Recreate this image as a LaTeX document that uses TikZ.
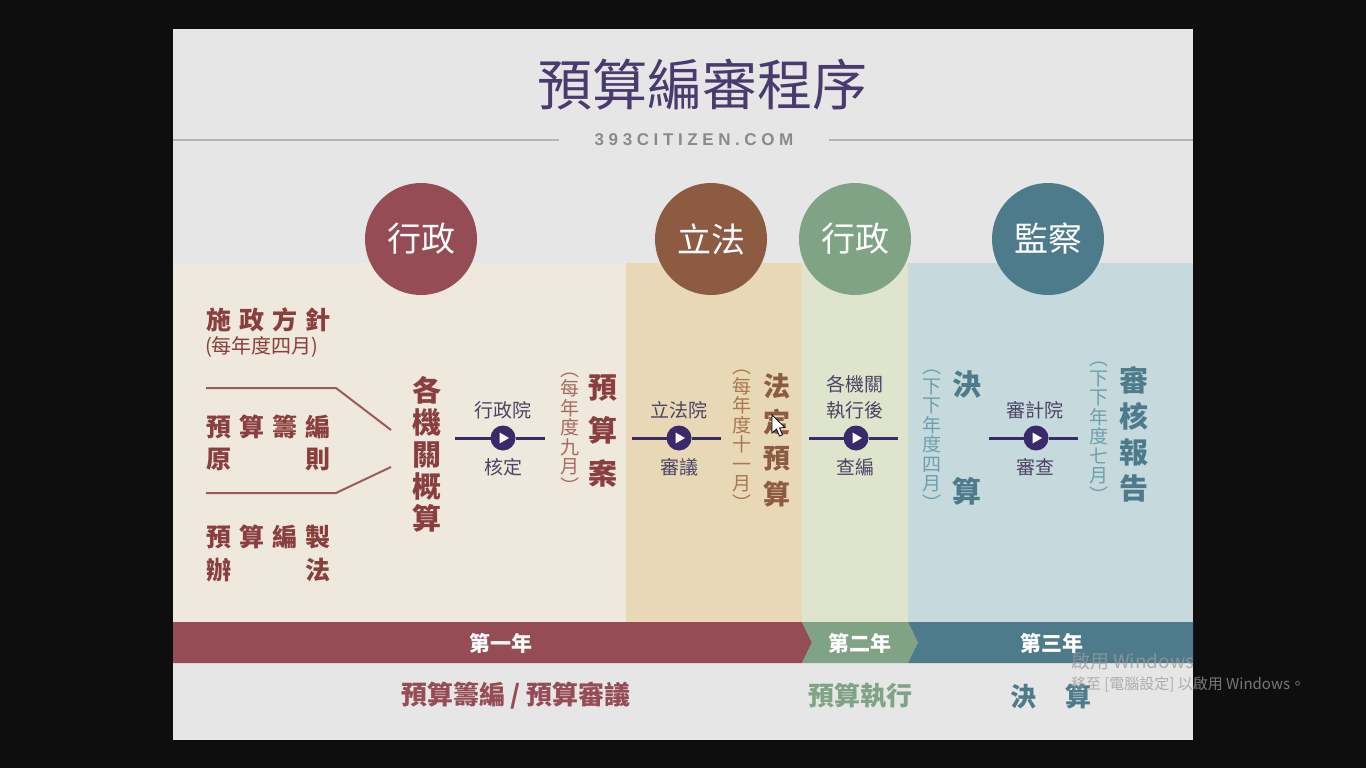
\documentclass[tikz,border=0pt]{standalone}
\usepackage{fontspec}
\setmainfont{Noto Sans CJK TC}
\newfontfamily\lat{Liberation Sans}
\usetikzlibrary{calc}
\definecolor{frame}{HTML}{0E0E0E}
\definecolor{bgc}{HTML}{E6E6E6}
\definecolor{pone}{HTML}{EFE8DC}
\definecolor{ptwo}{HTML}{E9D8B6}
\definecolor{pthree}{HTML}{DFE5CD}
\definecolor{pfour}{HTML}{C6D9DD}
\definecolor{cred}{HTML}{954C55}
\definecolor{cbrown}{HTML}{8C5B41}
\definecolor{cgreen}{HTML}{80A386}
\definecolor{cblue}{HTML}{4E7B8B}
\definecolor{titlec}{HTML}{4A3B6F}
\definecolor{urlc}{HTML}{8A8A8A}
\definecolor{rulec}{HTML}{B4B4B4}
\definecolor{redtxt}{HTML}{8A3E3E}
\definecolor{redlight}{HTML}{A86A60}
\definecolor{brownlight}{HTML}{A8784F}
\definecolor{bluelight}{HTML}{6D9FAE}
\definecolor{arrowc}{HTML}{3A2A6A}
\definecolor{labc}{HTML}{4C4465}
\definecolor{wmark}{HTML}{9A9A9A}
\newcommand{\gp}{\hspace{8pt}}
\begin{document}
\begin{tikzpicture}[x=1pt,y=-1pt,
  every node/.style={inner sep=0pt,outer sep=0pt},
  role/.style={circle,minimum size=112pt,text=white,font=\fontsize{34}{36}\selectfont},
  lefttxt/.style={anchor=west,text=redtxt,font=\bfseries\fontsize{25}{28}\selectfont},
  vsmall/.style={align=center,font=\fontsize{19}{19.5}\selectfont},
  vbig/.style={align=center,font=\bfseries\fontsize{29}{32}\selectfont},
  steplab/.style={text=labc,font=\fontsize{19}{21}\selectfont},
  flow/.style={draw=arrowc,line width=3pt},
  playbtn/.style={circle,fill=arrowc,minimum size=25pt,
    path picture={\fill[white] ($(path picture bounding box.center)+(-3.5,-5.5)$) -- ++(9.5,5.5) -- ++(-9.5,5.5) -- cycle;}},
  yearlab/.style={text=white,font=\bfseries\fontsize{21}{23}\selectfont},
  phaselab/.style={font=\bfseries\fontsize{26}{28}\selectfont},
  rule/.style={draw=rulec,line width=2pt}]
\useasboundingbox (0,0) rectangle (1366,768);
\fill[frame] (0,0) rectangle (1366,768);
\fill[bgc] (173,29) rectangle (1193,740);

% title
\node[text=titlec,font=\fontsize{55}{60}\selectfont] (title) at (702,85) {預算編審程序};
\node[text=urlc,font=\lat\bfseries\fontsize{17}{19}\selectfont] (url) at (694,140)
  {3\kern4.6pt9\kern4.6pt3\kern4.6ptC\kern4.6ptI\kern4.6ptT\kern4.6ptI\kern4.6ptZ\kern4.6ptE\kern4.6ptN\kern4.6pt.\kern4.6ptC\kern4.6ptO\kern4.6ptM};
\coordinate (ruleL) at (173,140);
\coordinate (ruleR) at (1193,140);
\draw[rule] (ruleL) -- ($(url.west)+(-36,0)$);
\draw[rule] ($(url.east)+(36,0)$) -- (ruleR);

% panels
\fill[pone] (173,263) rectangle (626,622);
\fill[ptwo] (626,263) rectangle (802,622);
\fill[pthree] (802,263) rectangle (908,622);
\fill[pfour] (908,263) rectangle (1193,622);

% role circles
\node[role,fill=cred] (r1) at (421,239) {行政};
\node[role,fill=cbrown] (r2) at (711,239) {立法};
\node[role,fill=cgreen] (r3) at (855,239) {行政};
\node[role,fill=cblue] (r4) at (1048,239) {監察};

% left column
\node[lefttxt] (shi) at (206,320) {施\gp 政\gp 方\gp 針};
\node[anchor=west,text=redtxt,font=\fontsize{20}{22}\selectfont] (shim) at (205,347) {(每年度四月)};
\node[lefttxt] (yc1) at (206,427) {預\gp 算\gp 籌\gp 編};
\node[lefttxt] (yc2) at (206,459) {原\hspace{74pt}則};
\node[lefttxt] (yb1) at (206,537) {預\gp 算\gp 編\gp 製};
\node[lefttxt] (yb2) at (206,570) {辦\hspace{74pt}法};
\coordinate (la) at (206,388);
\coordinate (lb) at (336,388);
\coordinate (lc) at (391,430);
\coordinate (ld) at (206,493);
\coordinate (le) at (336,493);
\coordinate (lf) at (391,467);
\draw[draw=redtxt!85,line width=2pt] (la) -- (lb) -- (lc);
\draw[draw=redtxt!85,line width=2pt] (ld) -- (le) -- (lf);

% panel 1
\node[vbig,text=redtxt] (gjg) at (427,454) {各\\機\\關\\概\\算};
\coordinate (a1) at (455,438);
\coordinate (b1) at (545,438);
\node[playbtn] (p1) at (503,438) {};
\draw[flow] (a1) -- (p1.west);
\draw[flow] (p1.east) -- (b1);
\node[steplab] (p1t) at (503,410) {行政院};
\node[steplab] (p1b) at (503,467) {核定};
\node[vsmall,text=redlight] (m9) at (570,433) {︵\\每\\年\\度\\九\\月\\︶};
\node[vbig,text=redtxt,font=\bfseries\fontsize{29}{43}\selectfont] (ysa) at (603,431) {預\\算\\案};

% panel 2
\coordinate (a2) at (632,438);
\coordinate (b2) at (721,438);
\node[playbtn] (p2) at (679,438) {};
\draw[flow] (a2) -- (p2.west);
\draw[flow] (p2.east) -- (b2);
\node[steplab] (p2t) at (679,410) {立法院};
\node[steplab] (p2b) at (679,467) {審議};
\node[vsmall,text=brownlight] (m11) at (742,440) {︵\\每\\年\\度\\十\\一\\月\\︶};
\node[vbig,text=cbrown,font=\bfseries\fontsize{27}{36}\selectfont] (fdys) at (777,440) {法\\定\\預\\算};

% panel 3
\coordinate (a3) at (809,438);
\coordinate (b3) at (898,438);
\node[playbtn] (p3) at (856,438) {};
\draw[flow] (a3) -- (p3.west);
\draw[flow] (p3.east) -- (b3);
\node[steplab] (p3t1) at (855,384) {各機關};
\node[steplab] (p3t2) at (855,410) {執行後};
\node[steplab] (p3b) at (855,467) {查編};

% panel 4
\node[vsmall,text=bluelight] (m4) at (932,440) {︵\\下\\下\\年\\度\\四\\月\\︶};
\node[vbig,text=cblue] (js1) at (967,384) {決};
\node[vbig,text=cblue] (js2) at (967,491) {算};
\coordinate (a4) at (989,438);
\coordinate (b4) at (1078,438);
\node[playbtn] (p4) at (1036,438) {};
\draw[flow] (a4) -- (p4.west);
\draw[flow] (p4.east) -- (b4);
\node[steplab] (p4t) at (1035,410) {審計院};
\node[steplab] (p4b) at (1035,467) {審查};
\node[vsmall,text=bluelight] (m7) at (1099,432) {︵\\下\\下\\年\\度\\七\\月\\︶};
\node[vbig,text=cblue,font=\bfseries\fontsize{29}{36}\selectfont] (shbg) at (1134,434) {審\\核\\報\\告};

% year ribbon
\fill[cred] (173,622) -- (802,622) -- (812,642.5) -- (802,663) -- (173,663) -- cycle;
\fill[cgreen] (802,622) -- (908,622) -- (918,642.5) -- (908,663) -- (802,663) -- (812,642.5) -- cycle;
\fill[cblue] (908,622) -- (1193,622) -- (1193,663) -- (908,663) -- (918,642.5) -- cycle;
\node[yearlab] (y1) at (501,643) {第一年};
\node[yearlab] (y2) at (860,643) {第二年};
\node[yearlab] (y3) at (1052,643) {第三年};

% phases
\node[phaselab,text=cred] (ph1) at (516,696) {預算籌編 / 預算審議};
\node[phaselab,text=cgreen] (ph2) at (860,696) {預算執行};
\node[phaselab,text=cblue] (ph3) at (1051,696) {決\hspace{30pt}算};

% windows watermark
\node[anchor=west,text=wmark,text opacity=0.75,font=\fontsize{19}{21}\selectfont] (wm1) at (1071,661) {啟用 Windows};
\node[anchor=west,text=wmark,text opacity=0.75,font=\fontsize{15}{17}\selectfont] (wm2) at (1071,684) {移至 [電腦設定] 以啟用 Windows。};

% mouse pointer
\filldraw[fill=white,draw=black,line width=0.8pt] (772,415) -- (772,433) -- (776.5,429) -- (779.5,436) -- (782.5,434.8) -- (779.5,428) -- (785,427.5) -- cycle;
\end{tikzpicture}
\end{document}
